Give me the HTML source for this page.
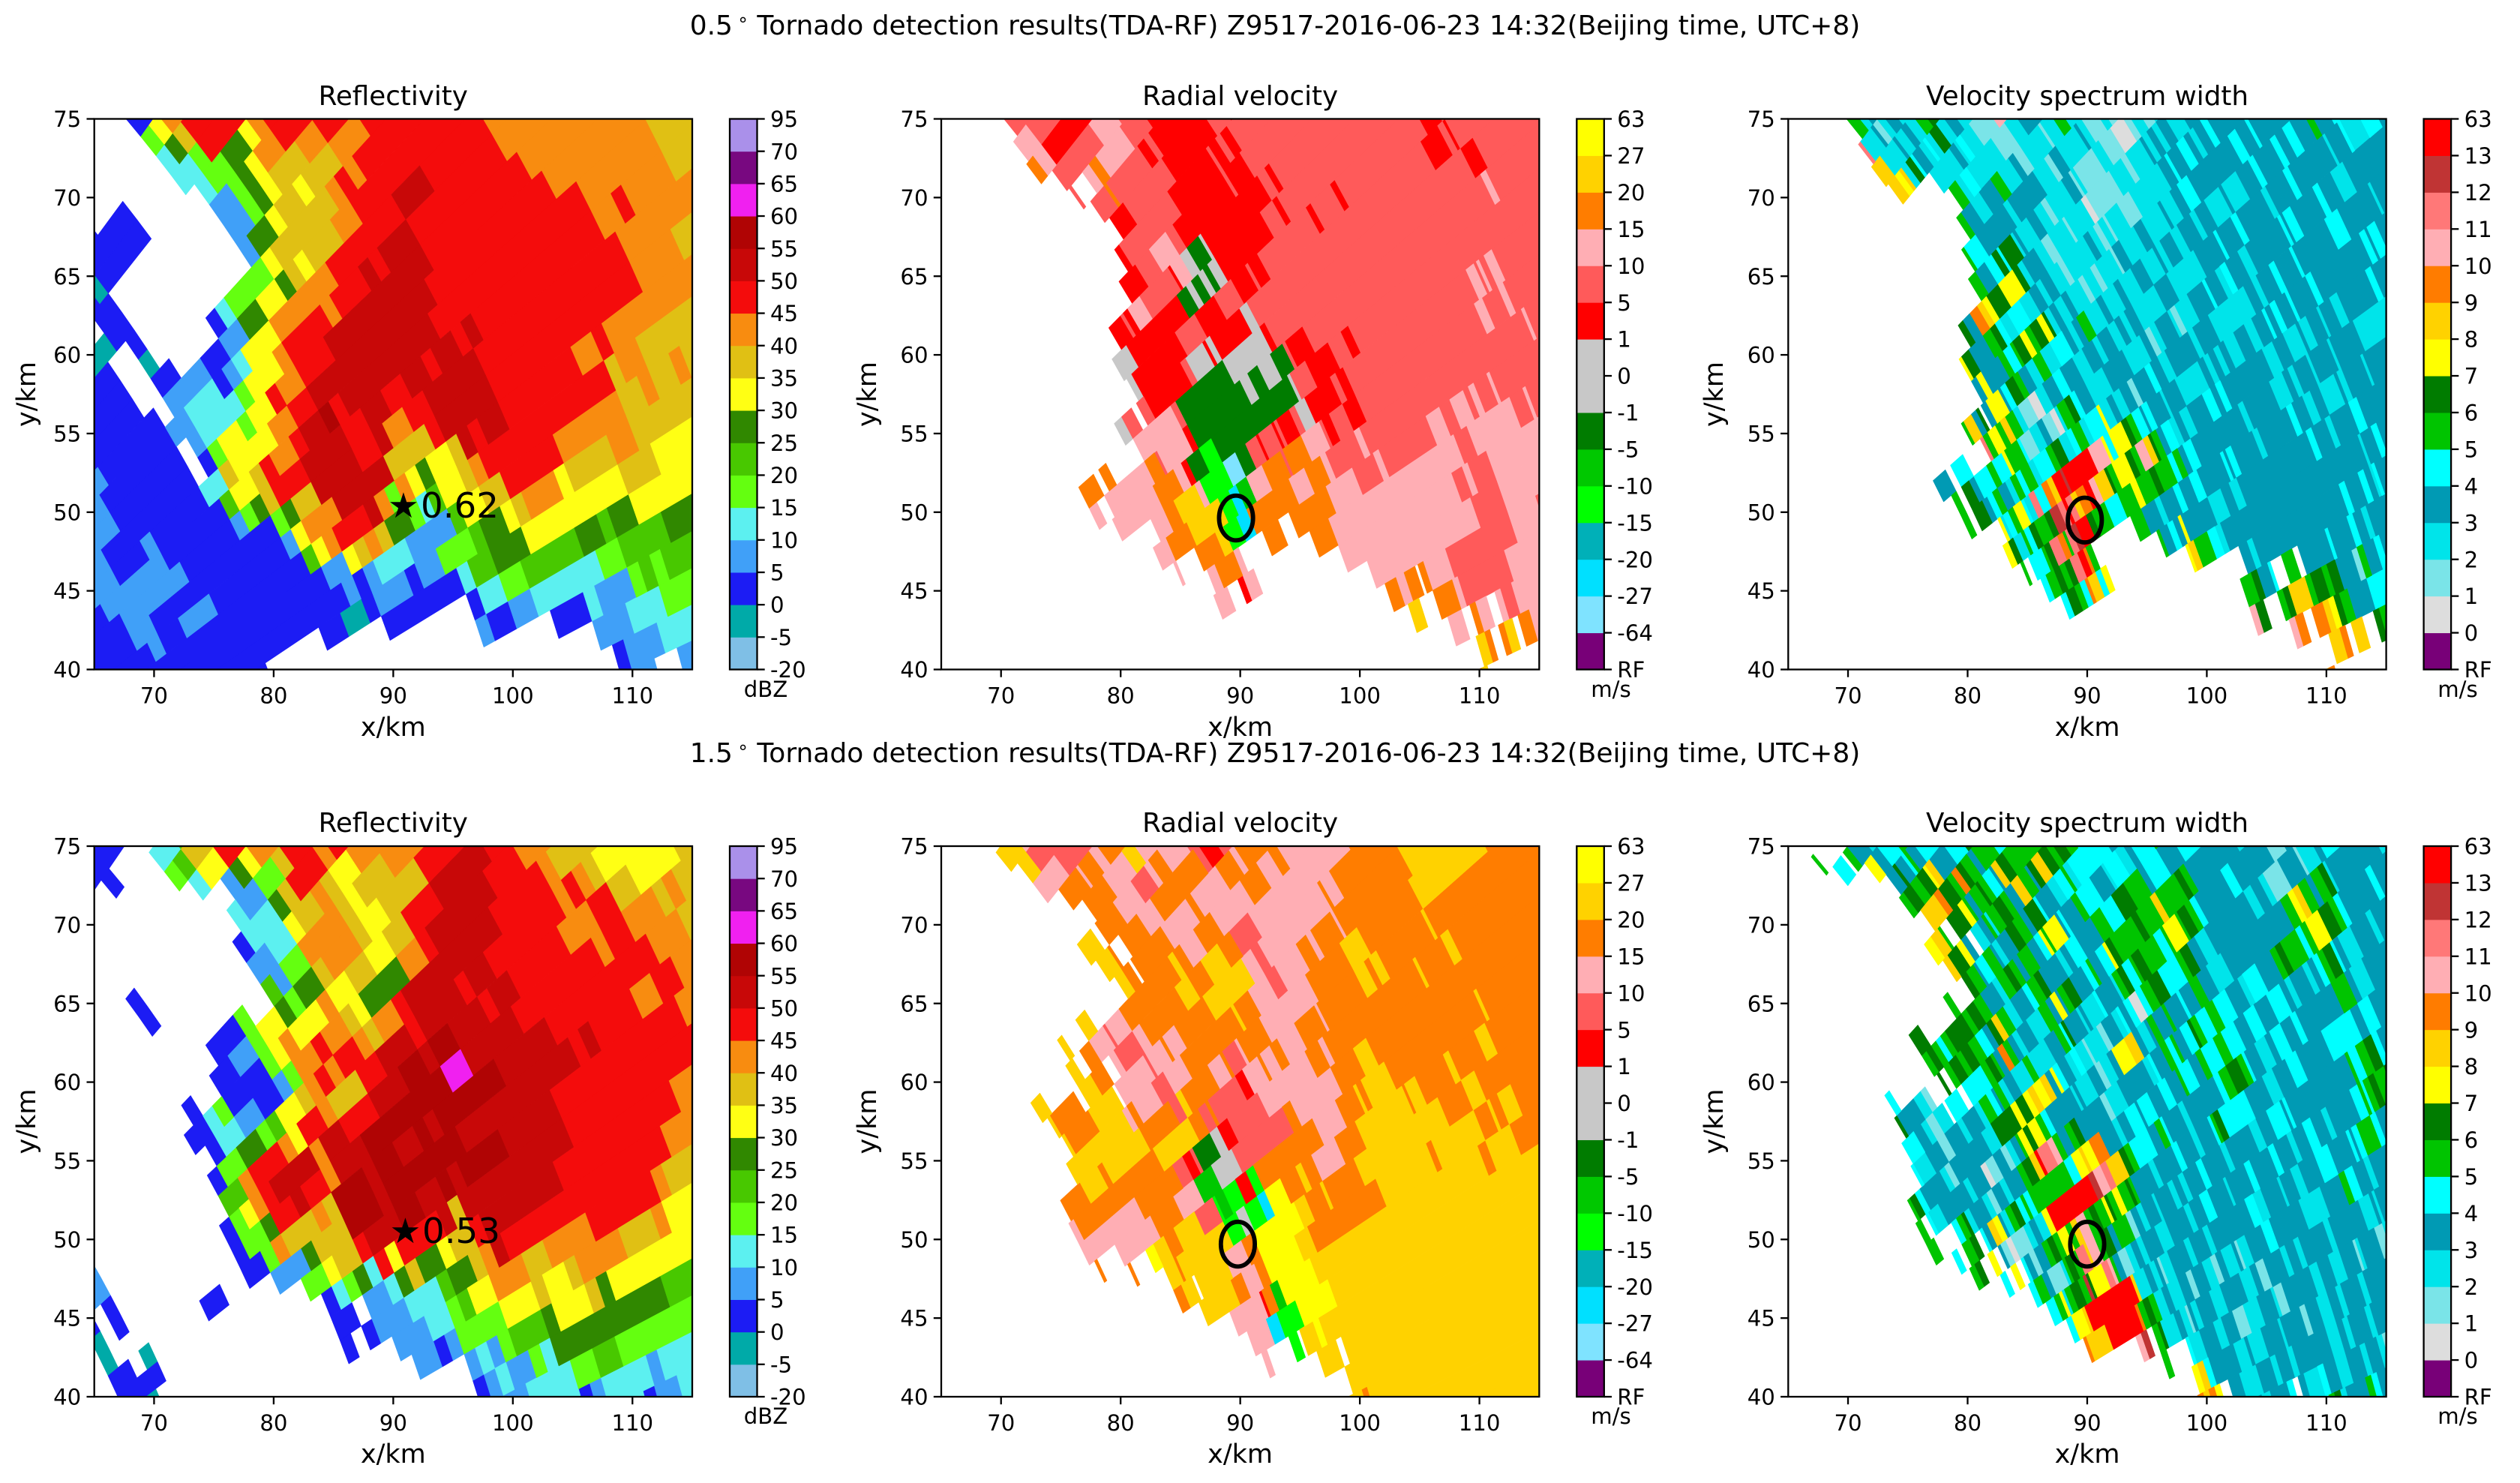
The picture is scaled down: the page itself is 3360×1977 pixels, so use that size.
<!DOCTYPE html>
<html lang="en">
<head>
<meta charset="utf-8">
<title>Tornado detection results (TDA-RF) Z9517</title>
<style>
html,body{margin:0;padding:0;background:#fff;overflow:hidden}
svg{display:block}
text{font-family:"DejaVu Sans","Liberation Sans",sans-serif;fill:#000}
.t36{font-size:36px}
.t35{font-size:35.7px}
.tx{font-size:35px}
.t29{font-size:29.17px}
.star{font-size:46.7px}
</style>
</head>
<body>
<svg id="figure" xmlns="http://www.w3.org/2000/svg" width="3360" height="1977" viewBox="0 0 3360 1977">
<rect x="0" y="0" width="3360" height="1977" fill="#fff"/>
<defs id="clips"></defs>
<g id="plots"></g>

<text class="t36" x="1700" y="46" text-anchor="middle">0.5<tspan dx="6" dy="-12" font-size="24">∘</tspan><tspan dy="12"> Tornado detection results(TDA-RF) Z9517-2016-06-23 14:32(Beijing time, UTC+8)</tspan></text>
<text class="t36" x="1700" y="1016" text-anchor="middle">1.5<tspan dx="6" dy="-12" font-size="24">∘</tspan><tspan dy="12"> Tornado detection results(TDA-RF) Z9517-2016-06-23 14:32(Beijing time, UTC+8)</tspan></text>

<text class="t35" x="524.3" y="140" text-anchor="middle">Reflectivity</text>
<text class="t35" x="1653.6" y="140" text-anchor="middle">Radial velocity</text>
<text class="t35" x="2783" y="140" text-anchor="middle">Velocity spectrum width</text>
<text class="t35" x="524.3" y="1109" text-anchor="middle">Reflectivity</text>
<text class="t35" x="1653.6" y="1109" text-anchor="middle">Radial velocity</text>
<text class="t35" x="2783" y="1109" text-anchor="middle">Velocity spectrum width</text>

<text class="tx" x="524.3" y="981" text-anchor="middle">x/km</text>
<text class="tx" x="1653.6" y="981" text-anchor="middle">x/km</text>
<text class="tx" x="2783" y="981" text-anchor="middle">x/km</text>
<text class="tx" x="524.3" y="1950" text-anchor="middle">x/km</text>
<text class="tx" x="1653.6" y="1950" text-anchor="middle">x/km</text>
<text class="tx" x="2783" y="1950" text-anchor="middle">x/km</text>

<text class="tx" transform="translate(47,525.5) rotate(-90)" text-anchor="middle">y/km</text>
<text class="tx" transform="translate(1168,525.5) rotate(-90)" text-anchor="middle">y/km</text>
<text class="tx" transform="translate(2297,525.5) rotate(-90)" text-anchor="middle">y/km</text>
<text class="tx" transform="translate(47,1495) rotate(-90)" text-anchor="middle">y/km</text>
<text class="tx" transform="translate(1168,1495) rotate(-90)" text-anchor="middle">y/km</text>
<text class="tx" transform="translate(2297,1495) rotate(-90)" text-anchor="middle">y/km</text>

<text class="t29" x="1021" y="929" text-anchor="middle">dBZ</text>
<text class="t29" x="2148" y="929" text-anchor="middle">m/s</text>
<text class="t29" x="3277" y="929" text-anchor="middle">m/s</text>
<text class="t29" x="1021" y="1898" text-anchor="middle">dBZ</text>
<text class="t29" x="2148" y="1898" text-anchor="middle">m/s</text>
<text class="t29" x="3277" y="1898" text-anchor="middle">m/s</text>

<text class="star" x="517" y="690">★<tspan x="561">0.62</tspan></text>
<text class="star" x="519.5" y="1657">★<tspan x="563">0.53</tspan></text>
</svg>

<script>
const xTickValues = [70, 80, 90, 100, 110];
const yTickValues = [40, 45, 50, 55, 60, 65, 70, 75];

const zTickLabels = ["-20","-5","0","5","10","15","20","25","30","35","40","45","50","55","60","65","70","95"];
const zLevelCodes = "Xabcdefghijklmnoq";
const zLevelColors = ["#7fbfe6","#00aaa8","#1c1cf4","#40a0f8","#5cf0f0","#64ff10","#48c800","#308800","#ffff14","#e0c014","#f88c10","#f40c0c","#c80808","#b00404","#f020f0","#780880","#aa90ea"];

const vTickLabels = ["RF","-64","-27","-20","-15","-10","-5","-1","0","1","5","10","15","20","27","63"];
const vLevelCodes = "QpqrstuvVwxyzAB";
const vLevelColors = ["#780078","#7fe3ff","#00e0ff","#00b0b8","#00ff00","#00c800","#007c00","#c8c8c8","#c8c8c8","#ff0000","#ff5a5a","#ffaeb4","#ff7d00","#ffd200","#ffff00"];

const wTickLabels = ["RF","0","1","2","3","4","5","6","7","8","9","10","11","12","13","63"];
const wLevelCodes = "QGLCDEFHYORPSTU";
const wLevelColors = ["#780078","#dddddd","#7ae4e8","#00e4ea","#009ab4","#00ffff","#00c400","#007c00","#ffff00","#ffd200","#ff7c00","#ffaeb4","#ff7878","#c03434","#ff0000"];

/* Reflectivity 0.5 deg: one row per km from y=74.5 down to y=40.5; each token is level code + x where the run ends */
const reflectivityLow = [
"b0 .68 b69.4 h70.8 j72.3 k76.8 i78.2 j79.3 k86 j87.6 k97.7 j110.5 i115",
".69 e70.5 h71 g72.5 i74 k76.2 g77.5 h79 j80 k82.5 j87.5 k98.5 j112 i115",
".70.7 d72 f73.5 e75 g77 h79 j80 i86 j87.5 k101 j113 i115",
".71.5 d75 e76.5 g78 h79.5 i85 k86.3 j87.5 k102 j114 i115",
".73 b74 d76.5 e78 g79 h80.7 i81 h83.5 j85.5 k90 l92.5 k103.7 j115",
".74 b75 c76.5 d78 e79 g80 h80.5 i85.8 j86.5 k90.5 l92 k106.5 j108.5 k110 j115",
".65.5 b68 .76 c78 e79 g80 h81 i85.5 j87 k91 l92 k106 j113 i115",
"b69 .76.5 c78.5 g80 h80.7 i85.8 k89.5 l92 k107.5 j114 i115",
"b69 .77.3 c78.8 g80.5 i85 k88.7 l92 k109 j115",
"b67.7 .78.3 e79.5 h81 i82.3 h83.5 k87 l88.5 k90 l93 k110 j115",
"a65.8 b66.5 .77 e79 h80.5 g82 h83.5 j85 k88.5 l93.5 k111 j115",
"b65.7 .76 e77.7 h81 j84.5 k86.5 l93.6 k109 j113 i115",
".65.5 b66.7 .74.4 b75.5 d77 g78.7 h79.5 j82 k84.3 j86 l93 k95 l96.2 k107.5 j111 i115",
".66 b68 .75.5 b76 c77.3 d77.8 g78.8 h80 j81 k84.3 l86 k86.7 l93 k95.5 l97 k98.3 l100 k105.7 j106.6 k108.2 j111 i115",
"a66 .66.7 b69 .74.8 b76 c77.3 g78.8 h80 j81.5 k85 l86.5 k87.5 l95 k105.8 j106.8 k108 j110.5 i115",
"a65.8 .68 b68.8 a70.5 .73 b75 .76 c77.2 d78 h80.5 j82 k83.5 l92.5 k94 l97.5 k105.5 j106.8 k107.7 j111 i113 j114 i115",
"b66.5 .69.7 b72.5 c74 b76 c77 e78.2 h80.5 j82.5 k83.5 l98.5 k105.5 j106.7 k108.2 i110.2 j112 i115",
"b68 .70.5 b71 c72.6 b73.3 e74.8 d77.5 e78.3 h79.3 k80.5 j82 k83.5 l89.5 k92 l98.5 k108 i110.5 j112.5 i115",
"b69 .71 b71.5 c73 d77.7 e78.5 h79.5 k80.5 l82 k83.2 m85 k88 l90 k93.5 l99.5 k106.8 j109.3 i115",
"b70.3 c73 d76 e78 g78.7 h80 j81.5 k82.5 l85 k87.7 l89 j91.6 k94 l99.7 k102.5 j109.5 i113 h115",
"b72 .72.6 c74.4 e76 h80 j81 k82.3 l87 k88.5 l89.2 j90 i94.5 k96 l97 k103 j111.5 h115",
"b72.7 .74 b75.2 e76.3 i77.3 h79 i80 j81.5 l87 k88.5 l90 i92 g93.3 h94.5 i96 j97.2 k103.5 i111.5 h115",
"b73.5 .74.5 f76 i77 h78.3 i79 k81.5 j82 k83 l90.7 h92 g93.3 h94.3 i96.5 j98.5 k103 i108.6 h109 i112.3 h115",
"c65.5 b73.8 d75.5 f76.6 h78.8 i79.8 k82.2 j83.5 l88.5 j91 h92.3 i93.5 h96.5 i99.7 k101.8 j104 h109.5 i112 h115",
"c66 b74.4 d76 f77 h78.5 g79.5 i81 k82 i84 j85 l89 j90 e91 d93 f94 h100.2 i101.5 j103.5 h113.5 g115",
"c67 b75.5 d76.5 c77.3 e78.4 f80 e81 g82.3 i83 j85.8 k88 l88.5 i89.5 g91 e92 c94.5 f95.5 h98 g99.5 h106 g107.5 f108.5 g110.8 h112 g115",
"c67 b80.6 c81.5 h83 j85.5 k87.5 j88.7 i89.8 g91 c94.5 e95.8 f97.5 g98.5 h100 g101.5 h105 g107.3 f108.5 g110.2 f112.5 g115",
"c65.5 b69.5 c71 b81 c82.4 f83.5 h84.7 i85.5 h87 i88 j89 c90.5 d91.5 c94.3 e97 f98.7 g101.5 f106.5 e109 f115",
"c66.3 b68 c71.2 b71.8 c72.4 b82.7 f84 c86 h87 c88.5 d90.7 c95.4 b96.2 d97 f98.5 e101 f103.3 d107 e109 f112 e113 f115",
"c72.8 b85 c87 b87.5 c91.5 b96 d98.3 e101 d103 e103.8 d108.5 c110 e115",
"c71.5 b73 c75 b88.5 c91.7 b96.3 .96.6 b97.6 d99.6 b100.5 c102 d106.8 c110 d112.5 e115",
"b66 c69 b71.2 c74.8 b85.6 a88 b93.4 .96.8 b97.9 c99 b100 c101 .103.2 b106 c109.5 d115",
"b68 c71 b72 c74 b83.8 .84 b86.5 a87.5 .89 b91 .97 c98.2 b99 .104 b106.4 c110 c112 d115",
"b68.5 c70.8 b81.5 .107 c112.7 d115",
"b69.5 c70 b79.5 .108.6 b110.7 c112.5 .113.8 c115"
];

const reflectivityHigh = [
"b67.5 .69.6 d71.5 f72.8 i74.2 j75.3 k77.2 j79.5 k82.5 j85 k86.7 j89 k89.7 j93.5 k96.3 l97.8 k100.8 j103.5 i107.6 h113.5 i115",
"b66.3 .67.3 b68.7 .71 e72.3 f74 h75.5 g77.5 h78.7 e80.5 i81.5 k83.7 i84.5 h86.5 j87 i92 k94 l97.5 k102 j104.5 i107.5 h112 i115",
".65.8 b67.3 .72.5 e73.2 d75 c76.7 g77.7 c79 e80.3 i82 k84 i85 h86.7 i88.5 j90 i92.5 k94 l98 k105.8 j107 i110 j113.5 i115",
".76 d77.3 c79 g81 i83.5 j85 i86.3 h88 i90.7 k93.5 l98 k104 j106.5 k108.5 j112 i115",
".77 d80.3 g81.3 i83.5 j86 i87.5 h89.3 i90.5 j91.5 k94 l98.5 k104 j106.5 k108.5 j113 i115",
".77.5 d81 h82 j86 i87.5 h89 i92 k93 l98.5 k104 j107 k110 j115",
".76.5 b78 d81 h82 j87.5 h89.7 i91.5 j92.5 k94 l98 k104 j106 k107 j109.5 k111.5 j115",
".77.7 b78.2 c79.5 d81 e82.2 i83 j86 i88 h91 j92 k93.5 l98 k107 j107.7 k113.5 j115",
".79 f80.6 c82 e83 g83.6 i85 h86.5 i88.3 g90.5 h91.5 j92 k93 l100 k110 j111.5 k114 j115",
".67.6 b69 .79.8 f81.3 e82 g83.5 i85 h86.7 e87.5 g90 k91 l96 k98.5 l99.7 k110 j111.7 k114 j115",
".68.3 b69.7 .79.7 g81.8 i83 h84 j86 h88.5 j90.7 k92 l97.5 k110 j111.7 k114.3 j115",
".69.5 b70.4 .75 b77.3 e78.5 h80.3 i81 j82 h83.6 j86 i88.5 j90 k92 l102 k114 j115",
".74.5 b76.5 c78 e79.5 h81 j82 k84.5 j86 k87.3 j88 k89 l93 m95.5 l104 k106 l107 k115",
".75 b75.7 c78 d79.5 e80.5 h82 j83.8 k85 j85.5 k89.2 l91 m92.5 l94.5 n95.5 l105 k115",
".75 b76.5 c78 b79 c80 e82 j84 k85 j87.5 k89 l91 m93 l94 n96 m98.5 l104.5 k113 j115",
".76 b80.2 c81.2 i82.5 j84.5 i87 j88.5 k89.5 l91.5 m98 l103 k113 j115",
".72.5 b73.8 .74.3 e76.5 b77 c78 b80 f81 h82.5 i84 j85 i87 k88.5 l90 m96.5 l104 k114 j115",
".73.5 b74 d75.2 e75.7 d77.3 c79 f81 h82.3 k84.3 j85 k88 l89.5 m92 l93.5 m96 l104 k114 j115",
".73.3 b74.5 .75 b75.5 d77.5 g79 e79.8 d81 h82.3 k84 l85.5 k87.5 m90.5 l91.7 m96 l105.2 k111.7 j115",
".74.5 b76 e77 g79 e80 k80.5 j81.5 h82 j84 k85.5 l89 m90 l93 m99 l104 k112.5 j115",
".74.8 b75.7 e77 j78.7 k81 l83 k84 j85 l89 m99 l104 k113 i115",
".75 b75.8 f77 j79 l82.5 k84 j85 l86.5 m94.5 l104.5 k112 j113 i115",
".75.2 c76 f77.5 j79 k80.5 l83 k84 j85.5 m89 l90 m92 l94 k96 l103.5 k112 i114 h115",
".75.5 c76.5 e77.7 h79 j80.5 k83 j84.5 i85 m88.5 l90 m92 l95 i95.5 k96 l100 k109.5 j113 h115",
".75.5 b76.5 e78 e79 g80.7 i84 j85 i86 k86.5 m88.5 l92.7 k94.5 h95.5 i97 k103 j109.5 i113.5 h115",
".75.8 b77.5 e78.5 g79.7 j81 i83 g84 i85 j87 k88 l90 k93 h94.5 i96 k98.5 l99.5 k100.5 i103 j109 i110.7 h115",
".77.8 b79 e80 c83 g84.5 h85.5 i87 f88 i89 k90 h92 g94.5 i95.5 g97 i97.5 j101.5 i106 j108.5 h115",
"c65.7 .78 b79.5 .80 c83 e84 h85.5 e87 g88.3 d89.5 g91 i92.7 h93.5 f95.3 g97.5 i98.7 j103 h105 i106.5 j108 h112 g114 f115",
"c66.2 .73.3 a74.7 b75.7 .84 b85 d87 e88 c90 d94.5 e95.5 g97 h102 i103 h106 i107 g112.5 f115",
"b65.5 .65.8 b67.5 .73.8 b76.8 .84.5 b87 .87.8 c91.5 d94 e95.5 f97 h102 g103.5 h105.5 g112.5 e115",
"b65.4 .66.2 b67.8 .85 b87 .88.5 c93 d95 e100 f103 g112 e115",
".65.3 a66.2 .69 a69.6 .85.4 b86.5 .88 b90.5 c93 b95 c96 e100 f102.5 g109 e112 d115",
".65.5 a66.8 .68.8 a70.2 .90.2 b91.5 c93.5 b94.8 .96 c97 d98.3 c99.5 e103 d104.5 e107 f110.3 c112 d115",
".66.3 b68.2 .68.8 b71 .96.3 c98 d100 c101.5 d105 e107.5 d111 c112.7 d115",
".67 b70 a70.5 .97 b98 c99 c101 d105.5 b106.7 c107.5 d111 b112 c114 d115"
];

const velocityLow = [
".70.7 x74.5 w77 x78 y79.5 x82 w87.5 x88.5 w89.5 x105 w106.3 x115",
".71 A71.2 y73 x74 w76.5 x78 y80.5 x83 w87.8 x89 w89.5 x105.3 w105.8 x106.4 w107.2 x107.6 w108.3 x115",
".71.8 A72.3 y74 w75.5 x77.8 y81 x82 w87.7 x88 w89.5 x105.6 w106.3 x109 w110 x115",
".72.8 z73.3 y74.5 x76.5 y78 z79.5 x84 w93 x110 y110.6 x115",
".76 x76.5 .77.8 y78.3 z79.3 x84.5 w89 x89.5 w92 x97.8 w98.5 x110.6 y111.2 x115",
".78 x84.5 w92.5 x93 w93.6 x95 w96 x110.8 y111.4 x115",
".79 w80.7 x85.5 w90 x91 w92.2 x93.5 w94 x96 w96.5 x97.5 w98.2 x115",
".80.3 w81 x85 w89.7 x90.5 w92 x99.5 w100 x115",
".79.5 w80.5 x82.3 y84.7 x85.5 v86 u87 v87.5 w91 x115",
".80 w80.5 x83.5 y85.5 v86.5 u87.5 v88.5 w92 x109.8 y110.4 x111 y111.6 x115",
".80.3 w81.8 x84.5 w85 x85.5 y85.8 u87 v87.5 u89.7 w91 x109.5 y110 x111 y111.6 x115",
".81.5 w82.2 x83.5 w84.4 x85 u86 v86.5 u87.5 w88 x90.5 w91 x112 y112.5 x115",
".80.5 w81.2 y83 w85.5 x86 v86.7 w90.5 v91 x92 w93 x110 y110.8 x113 y113.8 x115",
".79.5 w80.5 x81.7 w85 x86.8 w91.5 x92 w92.5 x114 y114.7 x115",
".80 w85 x86 w87.5 v88 w90.5 v93 u93.7 x94 w96 x99 w99.5 x115",
".79.5 v81 w85 x85.5 v87.5 u88 v93 u94 x94.5 w98 x115",
".80.3 u81 v81.5 w85.5 x86 u89 v90 u92 v92.5 u94.5 x96 w99 x113.5 y114 x115",
".81 v82.5 w85 x85.8 u90.5 v91 u92.5 v93 u94.5 v95.5 w98 x99 w99.5 x108.5 y110 x111 y112 x113 y114 x115",
".81.7 x82.5 w84 x85 u94.5 v95.8 w98 x98.5 w100 x106 y107 x108 y109 x110 y111 x112 y113 x114 y115",
".79.6 v80.5 x82 y85 w85.5 u92 x93.5 w94.5 x95 w96 x97 w98 x100 y100.5 x106 y107 x108 y109 x110 y112.5 x113 y115",
".80.5 w81.5 y85.5 w86 u91 w92 x93 w94 x95 y97 x100 y100.5 x105.5 y106.4 x109.5 y115",
".81.5 w82.5 x83.5 y85.5 w86.3 u87 s89 t90 u91 x92 w93.5 x94 z95.5 y97 x100 y100.5 x101.5 y102 x104 y115",
".78.5 z79.3 .80.5 y82.5 z84 y85.5 w86 u87.5 s89 p90 u91.5 y92.3 z95 y95.8 z97 y98 x101.5 y109.5 x111 y115",
".76.7 z78.2 .78.5 z79.5 .80 y83 z85 y86 A86.7 y87 s88.5 q90 t91 y92 z94.5 y108 x111 y115",
".77 z78.3 .79 y80.2 .80.5 y83.5 z84.7 A86.5 y87 A88.5 s89.5 q90.2 r90.7 q91 z94 .94.6 z97.5 y109 x112 y113.5 x115",
".77.7 y79.5 .80 y84 z85 A88.5 B89.3 r90 q91 z94 .94.5 z98 y110 x112.5 y115",
".79.8 y81.2 .83 y84 z86 A89 s90 q91 z93.5 .95 z97.8 y109 x113 y115",
".83 y84.2 z85 .86 z89 A90 .96.5 z97 .97.5 y108 x112 y115",
".84.5 y85 .87 z89.8 y92 .99 y107.5 x112.5 y115",
".87.5 y90 w90.6 y91.5 .101 y104 z105 .105.3 z106 y108 x112 y115",
".88 y89.2 .102.5 z104 .105 z105.7 .106.5 z108 y112 x113 y115",
".104.3 A105.3 .107 z107.8 y108.6 .109.5 z110 y111 .112 z113 y115",
".107.7 y108.8 .109.5 z110.3 .111 z112.5 A113 .113.6 z114.5 y115",
".107.8 y108.5 .110 A110.8 z111.2 .112 z113 .115",
".110 z110.5 A111 .115"
];

const velocityHigh = [
".70 A71.5 y72.5 x77 y78.5 z80 A81.5 y85.2 x87 w88 x89.2 y90 z93.5 y98.5 z103.5 A110 z115",
".66 A66.7 .68 A68.8 .72 A72.8 y75 x76.5 y77 z79.5 y81 z82 y83 z85 y85.5 z87.5 x88.5 z92 y93 z93.7 y98 z104.5 A108 z115",
".72.8 A73.3 y75 z79 y81 x83 y84 z87 y89 z92 y98 z104.7 A108 z115",
".75.5 z79 y82.5 z86.5 y90.5 A91.5 y97 z115",
".78.3 z80 y83 z84.5 y86.5 z88 y98.3 z105.2 A106 z115",
".78.5 z80 .80.5 z84 y86 z88.5 y89.7 x91.5 y96.5 z107 A107.5 z115",
".77 A78 z79.5 .80.5 z85.5 y87 z89.7 x92 y95 z96 y96.5 z98 A102 z107.3 A108 z115",
".78 A79.5 z80.7 .81.5 z84.5 A85 z86.5 A89.5 z90.2 y91.5 x93.5 y96 z101 A102 z115",
".79.3 A80.7 z84.5 A86 z87.5 A91 x93.5 y96 z100 A101 z105 A105.5 z115",
".80 A80.7 z85 A86.8 z87.5 A90.8 y96 z97 y97.8 z115",
".80.3 z87.5 A90 z92 y94.5 z96 y97 z110 A110.6 z115",
".76.7 A78 .79 y81 z92 y94.5 z97 z110 A111 z115",
".75 A75.7 .77.5 y79 x81.5 y83.5 z84 y85 z93 y95 z96 y97.5 z110 A111 z115",
".75.5 z76 .77 z79 y80 x82.5 y85.5 z87 y88 z89 x90 y93 z94 y96 z97 y98 z100 A101 z105.5 A106.5 z115",
".76 A76.5 .77 z79 .79.5 y83 x84 y86.5 z87.7 y89.5 x90.5 y92 z93 y98 z101 A102.5 z105 A106 z107.5 A109 z115",
".77 A78 z79 .80 y83 x85 z87.5 y88 x90 w90.8 x92 y98.5 z100.5 A102.5 z104 A105 z106 A108 z109 A110 z112 A112.8 z115",
".73 A73.7 .74.7 z76.5 .77 z78 A80 .80.5 z81 y84 x85 A85.5 z87.7 x92 y98.5 z100 A104 z105 A107 z109 A111 z112 A113 z115",
".73.5 A74.5 z77.8 A80.5 y81 z81.7 y83 z84.5 A85 z87 x91 w92 x94 z96 y99 z100 A104 z104.7 A108 z109 A110 z111 A113 z115",
".74.5 A75 z77.5 A82 z83 A86 z87 A88 v88.5 w89.3 x93.5 z96.5 y98.5 z100 A110 z111 A113 z115",
".75.5 A76.5 z77 A82 z83 A85 x86.5 u88 v89 w89.7 x93 z96.8 y98.3 z100 A106 z106.5 A110 z111 A115",
".76 A78 z79 A81 z84.5 x85.5 w86.2 x86.8 u88 v90 w90.5 x91 z96.5 y98 z100 A115",
".77 A80 z85 x85.8 u86.5 t88.7 u89.5 v90 w91 s91.5 z93 A93.5 z95 A96 z101 A115",
".75.2 z80 A81 z84.5 y86.5 x87.5 u88 t89 s90 v90.7 w91 s91.5 q92.5 B93.7 A95 z97 A97.3 z102 A115",
".75.5 z80 y83 z85 x88 s90 v90.7 s92 q93.5 B95 A97 z102 A115",
".76 y76.5 z78 y83 z84.5 A87 y88 A89 s91.5 B95 A96 z99.5 A115",
".77 y82 A84 z85 A89 s89.8 y90.5 z91.5 B95 A115",
".78 z78.5 .80 z81.5 .82.5 B84 z85 A89 y91 z91.8 B96 A115",
".81 z81.3 .82 A83 .84 A85 z86 A89.5 z90.5 y91.5 z92.5 B97.8 A115",
".84 z85.5 A86.3 .86.8 A89.5 z91 y92 z92.8 t93.5 B94.5 r95 B97.7 A115",
".87 A88.5 .89 z90 y92 w93 t94 s95 B97.5 A115",
".89.5 y92.5 q93.5 s94.5 t95 B97 A115",
".91 y92.3 w93.2 q93.8 s95 .95.3 A115",
".91.7 y92.7 .95.6 A96.3 .96.7 A98.3 .98.7 A100.2 A115",
".97.5 A99 .99.2 A102 z102.7 A115",
".99.3 A100.5 z101 A115"
];

/* Spectrum width: [first x of the row, level codes in 0.5 km steps] from y=74.5 down to y=40.5 */
const spectrumLow = [
[70.5,"FCDCLCDCCDCFHFCCDCCLLLLPCLCCDDGCCCFCCDCLLCLLLGLCLCCDDCCDDCEEDDDDDDEDDDDDEDDDFDDEEDCCCEEDD"],
[71,"SCCDCLDCDCDECHHFDECCDCCLLLCLLCCLCDDCCDCCLLLGLLCCCDCEEDDDCDDEDDEEDDDDFHDDEDDDDCCDDEDDEDDD"],
[71.5,"SOYCCCDDEDCHHECDCCDCCCDCCDLCCCCDDCLGGLLCLLLLCCCDCEDDDEEDDDCDDDEEDDDDDEEDDDDDDDEDDDDDDD"],
[72.5,"OOYOOCHYHCCCYHHECCDCFCCDDDCCCLDGLCLLLLCCCCLLCDCCDEEDDCDDDEEDDDDEDDEDDDDDDDEDDDCDD"],
[74,"OYHY.....OFCEDCCDFDCDDDDCLCCCDLCCLLLLCLLLCCCDCCDEEDDEDDCCCDEDDDDDDEDDDDDDDCDDDEEDD"],
[79,"FFDCCDDCCCDDCCDLCCLCCCGLLCCCLLCCCDDCCDEDCDCCCDDDDEDDCDDEDDDDDEEDDDDDDDCDDEDDD"],
[79.5,"FDDDDDDDCCDDDCCCLDCCCCCLLCCLLLCCCCDCCCDCDDCDDCEDDDCDDDDEDDDDDDEEDDDDDCDDEED"],
[80.5,"ODDDDDDDCCDDDCCCLCCCCLCLCCCCDCCDDCCDDCCCDDDDEDDDCDDDEDDDDDDDEDDDDDDEDDD"],
[79.7,"FEEDDDEHHCCDCCLLCCCCCDCCCDDCCCCDDCDDCDCCDDDEDDDCDDDDDDEDDDDDEDDDDDDEDDD"],
[80,"FDDDEHHFHCDDCCCCLCCDCDCCCLCCCDCCDCDDCCCDDCEDDDCDDDEDDDDEDDDDDDDDEDCC"],
[80.7,"FDDEEYYHCCCCDCCDCCLCLCCDDCCDCCCLDCCDCDDDDCEDDDCCDDEDDDDDEDDDDDDDDDEDD"],
[80.7,"DOYHHYYCCCDCLCCDCCLCCDCCDDCCDCCDDCDCDDDEDDCCCCDCDDDEEDDDDDDCCDDDD"],
[80.3,"DROYHHFEECCDCCDCCCCDCCDCCCDDCCCCCDLCCDDDEDCCCCCDDCDEDDDDDCCDDCDDDD"],
[79.7,"HDDOYHECCDEFHYHFDDCDFHCCDCDCDDCCCDDCCDCDDDCCCCCDCDDEDDDDDCDDDDCCD"],
[80.3,"DDDFDDEFHYFFHHEEDCCGDCDDCDCCCDLCDCCDDCDDCCCCCDDCDEDDDCCCDCDDCD"],
[79.5,"YHDDDEDFEHHHFFCCDDCCCDDCCCDDCCCDDCCDDDCCCCDCDDDEDDDCCDDCCDCDDD"],
[80.7,"HYDDDDEFDCCCDEEDDCDDCCDDCCCDDEDDDDCCCCDDDDEDDDDCCCDDDCDDDD"],
[80.7,"DYHEDEHFCLCCDDECCDDCCDDCCDLDDCDDDDCCCDDDDEDDDDCDDDCCCDCDD"],
[81.5,"DYYRHCLLGGCDCFHEDCDCCDCDDDDEDDCDCCCDDEEDDDDCDDDDDDCCDD"],
[79.7,"FODHEFYOFCLCCDLGCFHFCEEYYOHHFEDDEDDCDCDDDDEDDDDDDDDDDDDEDDDDD"],
[80.7,"HSFYFCCFLLCDDECCEFHFCEEYYFHOOHFDEDDCDDDDDDDEDDDCDDDDDDDDEDDDDC"],
[81.5,"FSFYFFEDECEFHFETUUPPYOYYHFPOYYFHFDEDDEEDDEDDDDDCDDDDDDDEDDDDDDDCCD"],
[77,"CDD.EE.CDEFEEFYFFCEFSUUUUUUPOHFYYHFOYHFFEFDEDDDDDEEDCCDDDDDDEDDDDDDDCDD"],
[77.5,"DDD.FHDECDFDCFEEYUROUTUUUUPOOHFEYYFFHFFEFDDEDDDEDCCDDDDDDDEDDDDDD"],
[79,"F.HFFDEFDFYECSEEFYUSORYOOFEEFFDEFDCDDEDDDEDCCDDDDDEDDDDDDDDDDDDDD"],
[79.3,"FF.HHD.CEFYOFCFHTSUUROHFFECC.FFDDDEEDCDDDDEDCDDDDDDDDDEEDDDDDD"],
[83,"YOEFEHFCFHFSTUUUO.......DFFDEDYOFFDECDDDEDCDDDDDDEDDDDDDDDEDDDD"],
[83.3,"YHCEFHFHSROYFCF.............DHYOFFE.DFEDDCDDDDDEDDDDDDEDDDDDDD"],
[84,"HF.EEFHDFHSUROYF.............................FF.EFDDCDDDDLFFFHFFHYDDEEDDEEDCDDDD"],
[85,"O..EFHFEFSROEY..................DEFE.FHDDEDDFFHFHHFHYECDDDEEDD"],
[87.7,"FEHFEHFY.......................F...F.FHOOOOYOYHHFDDDEEDDC"],
[104,"PH...POYHHRROYHFEEEHHF"],
[104.3,"PH....PR..OOR.O.OO..HFY"],
[108,"PR...OOR.OOR...HF."],
[109.5,"OOR.........Y"]
];

const spectrumHigh = [
[70,"FDDCDDEEFHFDEEFFDEEHDDFFEEDFFFFFFHFHFEEEEEEDDDCDEEFFDDDEEEEDDDDDCCDDDDLLDLLLCC"],
[65.5,"FF..F..EE....YDDFHDEFHYODDEFHFDDYROHFFDEHOHFFDCEEFHFCEEDDFDEEEDDCCDDDDEDDDDDDCCCLLDDDDCC"],
[72.3,"DY.DFHDFHODFHFRYOHFEDDHYOFDHHCCEFFHDEDDEDDHFFDEEDDFHFEDDDDDEDCDDDCLLDDDD"],
[73.7,"Y.FHHDFORHFHCDFHDYHFDFHFEDDCEFHFEEDDEDHHFHHYOFFFEEDDDDDDCDLDCDDDDD"],
[76.7,"OORYHHYFDHCFHFDCDHHFDFEDDCEDHFEEDDFHFFFHYYHHFEDDDCDDDCLDDDDD"],
[77.3,"YF.H.DCCDFHFHHFDCDFYYDDEEDDFHHHFFFHHFHFYYFHEEDDDDCCDLDDDDDD"],
[77,"YO.F.YD..CCCDDFHDDEYFCDEEDDFYYHFFFHFFFEEEEDDDCCLDDDDDDD"],
[78.3,"OHHY.DEFDDCDDFFHFFDCDDDFDDEEFYHFHFFHFEEFHEEDDCCDDDCCDDD"],
[79,"HYHFDCDDFHFRYFHDDDECDDEFHHFFHEEEFFHEEEDDCDDCCDDDDEEDDDFDDDDCD"],
[80.5,"FRDDCDFHDEFHFYDFHDDEEDDDCDDEEFHFEEDDDFFHEEEDDCCDDDDEDCDDDDD"],
[78.5,"F.EFHFDDDDCDDFFDFDYFDDDCCEEDDDEGDDEEFDDEEFHFFEEDDCCDDDEEDDDCDDDD"],
[78,"EFHHFYDDHOFDDCDCCDDEHDDCCLLDDCEEDDDFDDEEFHFEEDDDCDDEEDDDDDDEDD"],
[75.7,"HH.DEFHFYHFEDDOEDCDDCCDDFEDCCCCLLDDYODCEEDDFDEEEFFHFEEDDCDDDEEDDDCDDD"],
[76.5,"FHF.FHFHFDEFDRFHDDCCCDDCCECLDCCDYYDDCCDDFEEDDDFEEFHHFEDDCCDDDDEDDDD"],
[77,"FH.FHFFEEFHRDDCCFHOYYEDCCCDDLCCYODDDCEEDDFEEDDFEEFHHFEDDCCDDEEDDDCDDD"],
[78,"HFH.EEDDEFCDDFOYYODCCDDCCDDCCCDDDCDDEEDDFEEDDDEFHFEEDDCCDDDEEDDDDD"],
[73.5,"E..EDCLD..EE..DDFEDCEFHYOFCEDDDCCDDDLCCDDDEEDDFDEEDDDDEFHFEEDDCDDDEDDDDD"],
[73.5,"FHDDCDCLCC.DFDDCCEFHHYYFHFEDDCDCDDDLCDDDEEDDFEDDDCDDEFFHEEDDCDDDEEDDD"],
[74.5,"F.EDCLLCDDCFDDCCHFOYYHYFHEEDFHDDEEDDCDDDDEDFEDDDDCDDEFFEEDDCDDDEEDDD"],
[75,"EECCDDLDCCDDDCCGLCDFUUSSPFFHYOYRRHHHHFEEDDCDDEDDDFEDDCDDEDDFFEDDCCDDDEEDDD"],
[75.5,"ECCDDCLDDCCGGLDDCDFHOUUSPFEYYORRSOOHEEDDCDDDEDDFEDDDCDDEEDDDFEDDCDDDEEDDD"],
[76,"FHDDCCDDCDDCLDCDDFHFEFFFOSUUUTPSOOFFDDDCDDEDCDDFEDDCDDDEEDDDCDDCDDEEDDD"],
[75,"FHEDDCCDDDCDDCLDCFHFEFFYUUUUUUPUPHFYFHFDDCDDCCDDDEEDDDCDDDCCDDDEEDDD"],
[75.5,"FEDCCDDDCCDDCDDCFHEFFEYUUUPPOFHFYFFEDDCDDCCDDDCDDDDCCDDDEEDDCCDD"],
[76,"F.EEF.EFHDCDOYDDLLCDCFHFYFOPPPPSDFFLDCDDCCDDCDDDCDDDDCCDDEEDDDCDD"],
[76.5,"EF..EE.FH.EDDLGLLCDHFHFYFHOPPFHHPCLDCDDCCDDDCDDCCDDDLCDDDCCDDCCDD"],
[77.5,"E..E.DFH.Y.DD.EDLDCFHFHFSOPPHFDLCDDCCLCDDDCCDDLDCCDDDCCDDDCDD"],
[80.5,"FH..DE.Y...EDLLCFHFHYYSPHFDCCDCDCCDLLDDCCCDDDCCDLDDDCCDDDCDD"],
[85.5,"EF.LLCFHFTUUUUUUUOFHDCDCCDDCCDLCDDDCCDDCCLDDDCCDDDCCDDD"],
[87,"EFYOOTUUUUUUUURFHFCCDDCDCDDCLCDDDCCDDDCCLCDDDCCDDDCC"],
[88.5,"EYYOOTUUUUUUSOFHCCDCLCDDCCDDLLCDDDCCDDDLCCDDDCCDDDC"],
[89.3,"RROOOUUUUUPT.FHECLDCCDDCCDDLLCCDDDCCDDCDDDCCDDD"],
[90,"RO........TR.F...ECLDCCDDCCDDDCCDDCDDDCCDDCDDD"],
[98.5,"RYOEDDCCDDCCDDCDDDCCDDEDDCCDDDCD"],
[99.5,"RORY.DDCCDDCDDDE.DCCF.FHCDDDFEDD"]
];

const ringCentreVelocityLow = [89.65, 49.63];
const ringCentreSpectrumLow = [89.8, 49.5];
const ringCentreVelocityHigh = [89.8, 49.7];
const ringCentreSpectrumHigh = [90, 49.7];
const ringRadiusKm = [1.42];

const NS = "http://www.w3.org/2000/svg";
const root = document.getElementById("plots");
const clips = document.getElementById("clips");
const AXIS_W = 797.3, AXIS_H = 734;
const X_MIN = 65, X_MAX = 115, Y_MIN = 40, Y_MAX = 75;

function runLookup(rows) {
  const parsed = rows.map(function (row) {
    return row.split(" ").map(function (tok) { return { code: tok[0], end: parseFloat(tok.slice(1)) }; });
  });
  return function (x, y) {
    const idx = Math.min(34, Math.max(0, Math.floor(Y_MAX - y)));
    const runs = parsed[idx];
    for (let i = 0; i < runs.length; i++) {
      if (x < runs[i].end) return runs[i].code;
    }
    return ".";
  };
}

function stringLookup(rows) {
  return function (x, y) {
    const idx = Math.min(34, Math.max(0, Math.floor(Y_MAX - y)));
    const start = rows[idx][0], s = rows[idx][1];
    const i = Math.floor((x - start) / 0.5);
    if (i < 0) return ".";
    if (i < s.length) return s[i];
    if (s[s.length - 1] === ".") return ".";
    const span = Math.min(24, s.length);
    return s[s.length - span + ((i - s.length) % span)];
  };
}

function drawPanel(cfg) {
  const xScale = function (v) { return cfg.left + (v - X_MIN) / (X_MAX - X_MIN) * AXIS_W; };
  const yScale = function (v) { return cfg.top + (Y_MAX - v) / (Y_MAX - Y_MIN) * AXIS_H; };

  const clip = document.createElementNS(NS, "clipPath");
  clip.setAttribute("id", cfg.id + "-clip");
  const clipRect = document.createElementNS(NS, "rect");
  clipRect.setAttribute("x", cfg.left);
  clipRect.setAttribute("y", cfg.top);
  clipRect.setAttribute("width", AXIS_W);
  clipRect.setAttribute("height", AXIS_H);
  clip.appendChild(clipRect);
  clips.appendChild(clip);

  const panel = document.createElementNS(NS, "g");
  
  
  root.appendChild(panel);

  const heat = document.createElementNS(NS, "g");
  
  
  heat.setAttribute("clip-path", "url(#" + cfg.id + "-clip)");
  panel.appendChild(heat);

  /* radar bins: polar cells around the radar site at the origin */
  const paths = {};
  const corner = function (r, a) {
    const t = a * Math.PI / 180;
    return xScale(r * Math.cos(t)).toFixed(1) + " " + yScale(r * Math.sin(t)).toFixed(1);
  };
  const flush = function (code, r0, r1, a0, a1) {
    if (cfg.codes.indexOf(code) < 0) return;
    paths[code] = (paths[code] || "") + "M" + corner(r0, a0) + "L" + corner(r1, a0) + "L" + corner(r1, a1) + "L" + corner(r0, a1) + "Z";
  };
  for (let a = 15; a < 53; a++) {
    const mid = (a + 0.5) * Math.PI / 180;
    let runCode = null, runStart = 72;
    for (let r = 72; r < 142; r += cfg.dr) {
      const rc = r + cfg.dr / 2;
      const px = rc * Math.cos(mid), py = rc * Math.sin(mid);
      const outside = px < X_MIN - 1.5 || px > X_MAX + 1.5 || py < Y_MIN - 1.5 || py > Y_MAX + 1.5;
      const x = Math.min(X_MAX - 0.01, Math.max(X_MIN, px));
      const y = Math.min(Y_MAX - 0.01, Math.max(Y_MIN, py));
      const code = outside ? "." : cfg.lookup(x, y);
      if (code !== runCode) {
        if (runCode !== null) flush(runCode, runStart, r, a, a + 1);
        runCode = code;
        runStart = r;
      }
    }
    if (runCode !== null) flush(runCode, runStart, 142, a, a + 1);
  }
  for (let k = 0; k < cfg.codes.length; k++) {
    const code = cfg.codes[k];
    if (!paths[code]) continue;
    const layer = document.createElementNS(NS, "path");
    
    
    layer.setAttribute("d", paths[code]);
    layer.setAttribute("fill", cfg.colors[k]);
    layer.setAttribute("stroke", cfg.colors[k]);
    layer.setAttribute("stroke-width", "0.5");
    heat.appendChild(layer);
  }

  /* x axis */
  xTickValues.forEach(function (v) {
    const tick = document.createElementNS(NS, "line");
    
    
    tick.setAttribute("x1", xScale(v));
    tick.setAttribute("x2", xScale(v));
    tick.setAttribute("y1", cfg.top + AXIS_H);
    tick.setAttribute("y2", cfg.top + AXIS_H + 10.2);
    tick.setAttribute("stroke", "#000");
    tick.setAttribute("stroke-width", "2.3");
    panel.appendChild(tick);
    const label = document.createElementNS(NS, "text");
    
    
    label.setAttribute("class", "t29");
    label.setAttribute("x", xScale(v));
    label.setAttribute("y", cfg.top + AXIS_H + 45);
    label.setAttribute("text-anchor", "middle");
    label.textContent = v;
    panel.appendChild(label);
  });

  /* y axis */
  yTickValues.forEach(function (v) {
    const tick = document.createElementNS(NS, "line");
    
    
    tick.setAttribute("x1", cfg.left);
    tick.setAttribute("x2", cfg.left - 10.2);
    tick.setAttribute("y1", yScale(v));
    tick.setAttribute("y2", yScale(v));
    tick.setAttribute("stroke", "#000");
    tick.setAttribute("stroke-width", "2.3");
    panel.appendChild(tick);
    const label = document.createElementNS(NS, "text");
    
    
    label.setAttribute("class", "t29");
    label.setAttribute("x", cfg.left - 17.5);
    label.setAttribute("y", yScale(v) + 10.6);
    label.setAttribute("text-anchor", "end");
    label.textContent = v;
    panel.appendChild(label);
  });

  /* detection ring */
  if (cfg.ring) {
    const ring = document.createElementNS(NS, "ellipse");
    
    
    ring.setAttribute("cx", xScale(cfg.ring[0]));
    ring.setAttribute("cy", yScale(cfg.ring[1]));
    ring.setAttribute("rx", xScale(X_MIN + ringRadiusKm[0]) - xScale(X_MIN));
    ring.setAttribute("ry", yScale(Y_MAX - ringRadiusKm[0]) - yScale(Y_MAX));
    ring.setAttribute("fill", "none");
    ring.setAttribute("stroke", "#000");
    ring.setAttribute("stroke-width", "5.8");
    panel.appendChild(ring);
  }

  const spine = document.createElementNS(NS, "rect");
  
  
  spine.setAttribute("x", cfg.left);
  spine.setAttribute("y", cfg.top);
  spine.setAttribute("width", AXIS_W);
  spine.setAttribute("height", AXIS_H);
  spine.setAttribute("fill", "none");
  spine.setAttribute("stroke", "#000");
  spine.setAttribute("stroke-width", "2.3");
  panel.appendChild(spine);

  /* colorbar */
  const barLeft = cfg.left + AXIS_W + 50, barW = 36.5;
  const n = cfg.colors.length, seg = AXIS_H / n;
  cfg.colors.forEach(function (c, i) {
    const box = document.createElementNS(NS, "rect");
    
    
    box.setAttribute("x", barLeft);
    box.setAttribute("y", cfg.top + AXIS_H - (i + 1) * seg);
    box.setAttribute("width", barW);
    box.setAttribute("height", seg + 0.5);
    box.setAttribute("fill", c);
    panel.appendChild(box);
  });
  cfg.labels.forEach(function (txt, i) {
    const y = cfg.top + AXIS_H - i * seg;
    const tick = document.createElementNS(NS, "line");
    
    
    tick.setAttribute("x1", barLeft + barW);
    tick.setAttribute("x2", barLeft + barW + 10.2);
    tick.setAttribute("y1", y);
    tick.setAttribute("y2", y);
    tick.setAttribute("stroke", "#000");
    tick.setAttribute("stroke-width", "2.3");
    panel.appendChild(tick);
    const label = document.createElementNS(NS, "text");
    
    
    label.setAttribute("class", "t29");
    label.setAttribute("x", barLeft + barW + 17.5);
    label.setAttribute("y", y + 10.6);
    label.textContent = txt;
    panel.appendChild(label);
  });
  const outline = document.createElementNS(NS, "rect");
  
  
  outline.setAttribute("x", barLeft);
  outline.setAttribute("y", cfg.top);
  outline.setAttribute("width", barW);
  outline.setAttribute("height", AXIS_H);
  outline.setAttribute("fill", "none");
  outline.setAttribute("stroke", "#000");
  outline.setAttribute("stroke-width", "2.3");
  panel.appendChild(outline);
}

const COL_LEFT = [125.7, 1255, 2384.3];
const ROW_TOP = [158.5, 1128];

drawPanel({ id: "reflectivity-top", left: COL_LEFT[0], top: ROW_TOP[0], dr: 1, lookup: runLookup(reflectivityLow), codes: zLevelCodes, colors: zLevelColors, labels: zTickLabels });
drawPanel({ id: "velocity-top", left: COL_LEFT[1], top: ROW_TOP[0], dr: 0.25, lookup: runLookup(velocityLow), codes: vLevelCodes, colors: vLevelColors, labels: vTickLabels, ring: ringCentreVelocityLow });
drawPanel({ id: "spectrum-top", left: COL_LEFT[2], top: ROW_TOP[0], dr: 0.25, lookup: stringLookup(spectrumLow), codes: wLevelCodes, colors: wLevelColors, labels: wTickLabels, ring: ringCentreSpectrumLow });
drawPanel({ id: "reflectivity-bottom", left: COL_LEFT[0], top: ROW_TOP[1], dr: 1, lookup: runLookup(reflectivityHigh), codes: zLevelCodes, colors: zLevelColors, labels: zTickLabels });
drawPanel({ id: "velocity-bottom", left: COL_LEFT[1], top: ROW_TOP[1], dr: 0.25, lookup: runLookup(velocityHigh), codes: vLevelCodes, colors: vLevelColors, labels: vTickLabels, ring: ringCentreVelocityHigh });
drawPanel({ id: "spectrum-bottom", left: COL_LEFT[2], top: ROW_TOP[1], dr: 0.25, lookup: stringLookup(spectrumHigh), codes: wLevelCodes, colors: wLevelColors, labels: wTickLabels, ring: ringCentreSpectrumHigh });
</script>
</body>
</html>
